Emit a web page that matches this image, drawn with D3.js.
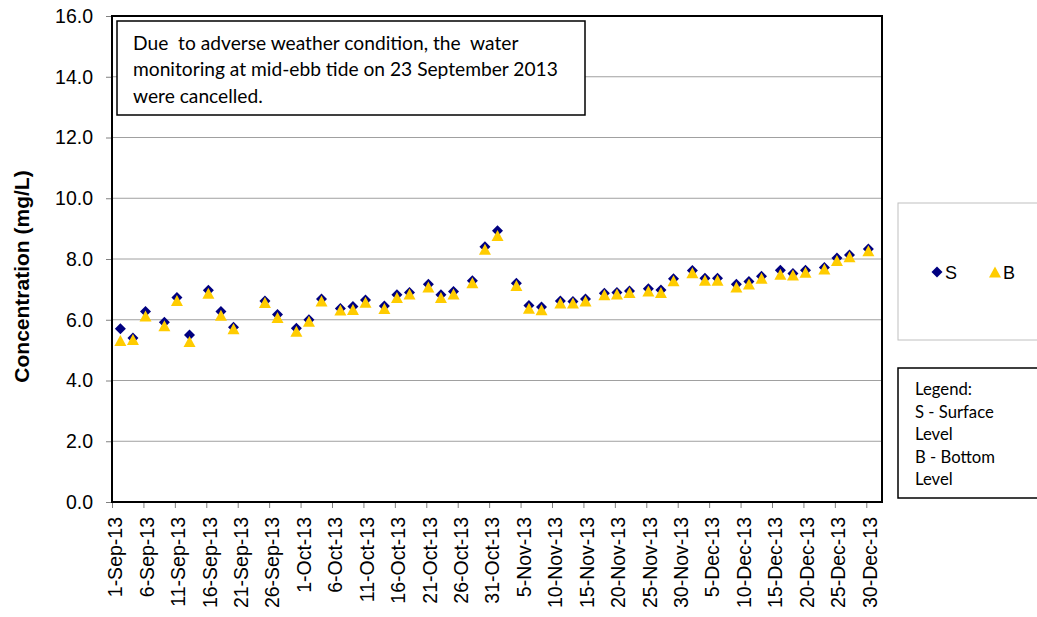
<!DOCTYPE html>
<html>
<head>
<meta charset="utf-8">
<script src="https://cdn.jsdelivr.net/npm/d3@7"></script>
<style>
  body { margin: 0; background: #fff; }
  svg { display: block; }
  .tick text { font-family: "Liberation Sans", Arial, sans-serif; font-size: 19.5px; fill: #000; }
  .note, .legnote { font-family: Lato, "Open Sans", sans-serif; fill: #000; }
</style>
</head>
<body>
<script>
//sampling dates (mid-ebb tide), 23-Sep-13 cancelled
var sampleDates = ["2-Sep-13","4-Sep-13","6-Sep-13","9-Sep-13","11-Sep-13","13-Sep-13","16-Sep-13","18-Sep-13","20-Sep-13",
    "25-Sep-13","27-Sep-13","30-Sep-13","2-Oct-13","4-Oct-13","7-Oct-13","9-Oct-13","11-Oct-13","14-Oct-13","16-Oct-13",
    "18-Oct-13","21-Oct-13","23-Oct-13","25-Oct-13","28-Oct-13","30-Oct-13","1-Nov-13","4-Nov-13","6-Nov-13","8-Nov-13",
    "11-Nov-13","13-Nov-13","15-Nov-13","18-Nov-13","20-Nov-13","22-Nov-13","25-Nov-13","27-Nov-13","29-Nov-13","2-Dec-13",
    "4-Dec-13","6-Dec-13","9-Dec-13","11-Dec-13","13-Dec-13","16-Dec-13","18-Dec-13","20-Dec-13","23-Dec-13","25-Dec-13",
    "27-Dec-13","30-Dec-13"];

//S - surface level (mg/L)
var surface = [5.70,5.40,6.27,5.92,6.73,5.50,6.97,6.27,5.75,6.62,6.17,5.72,6.00,6.68,6.37,6.44,6.65,6.45,6.82,6.90,
    7.17,6.82,6.93,7.28,8.40,8.93,7.20,6.47,6.42,6.62,6.60,6.68,6.87,6.90,6.95,7.02,6.98,7.35,7.62,7.37,7.37,7.17,
    7.26,7.43,7.63,7.52,7.63,7.72,8.03,8.13,8.33];

//B - bottom level (mg/L)
var bottom = [5.32,5.35,6.12,5.80,6.63,5.28,6.87,6.15,5.70,6.57,6.07,5.62,5.95,6.62,6.32,6.34,6.58,6.37,6.73,6.85,
    7.08,6.73,6.85,7.22,8.32,8.77,7.13,6.38,6.33,6.55,6.55,6.62,6.82,6.85,6.90,6.95,6.90,7.28,7.55,7.30,7.30,7.08,
    7.18,7.37,7.50,7.47,7.56,7.67,7.95,8.07,8.27];

//x axis tick labels
var xTickLabels = ["1-Sep-13","6-Sep-13","11-Sep-13","16-Sep-13","21-Sep-13","26-Sep-13","1-Oct-13","6-Oct-13",
    "11-Oct-13","16-Oct-13","21-Oct-13","26-Oct-13","31-Oct-13","5-Nov-13","10-Nov-13","15-Nov-13","20-Nov-13",
    "25-Nov-13","30-Nov-13","5-Dec-13","10-Dec-13","15-Dec-13","20-Dec-13","25-Dec-13","30-Dec-13"];

//y axis ticks
var yTicks = [0, 2, 4, 6, 8, 10, 12, 14, 16];

var noteLines = ["Due  to adverse weather condition, the  water",
    "monitoring at mid-ebb tide on 23 September 2013",
    "were cancelled."];
var legendLines = ["Legend:", "S - Surface", "Level", "B - Bottom", "Level"];

var parseDate = d3.timeParse("%d-%b-%y");

var width = 1037, height = 617,
    plotLeft = 112, plotRight = 882, plotTop = 16, plotBottom = 502;

var svg = d3.select("body").append("svg")
    .attr("width", width)
    .attr("height", height);

var xScale = d3.scaleTime()
    .domain([parseDate("1-Sep-13"), new Date(2014, 0, 1, 12)])
    .range([plotLeft, plotRight]);

var yScale = d3.scaleLinear()
    .domain([0, 16])
    .range([plotBottom, plotTop]);

//points sit a little past the day's tick
function px(s){
    return xScale(d3.timeHour.offset(parseDate(s), 8));
}

//gridlines
svg.append("g")
    .selectAll("line")
    .data(yTicks.filter(function(d){ return d > 0 && d < 16; }))
    .enter()
    .append("line")
    .attr("x1", plotLeft)
    .attr("x2", plotRight)
    .attr("y1", function(d){ return yScale(d); })
    .attr("y2", function(d){ return yScale(d); })
    .attr("stroke", "#a0a0a0")
    .attr("stroke-width", 1);

//y axis
var yAxis = svg.append("g")
    .attr("transform", "translate(" + plotLeft + ",0)")
    .call(d3.axisLeft(yScale)
        .tickValues(yTicks)
        .tickFormat(d3.format(".1f"))
        .tickSize(6)
        .tickPadding(13));
yAxis.select(".domain").remove();
yAxis.selectAll(".tick line").attr("stroke", "#808080");

//x axis
var xAxis = svg.append("g")
    .attr("transform", "translate(0," + plotBottom + ")")
    .call(d3.axisBottom(xScale)
        .tickValues(xTickLabels.map(parseDate))
        .tickFormat(d3.timeFormat("%-d-%b-%y"))
        .tickSize(6));
xAxis.select(".domain").remove();
xAxis.selectAll(".tick line").attr("stroke", "#808080");
xAxis.selectAll(".tick text")
    .attr("text-anchor", "end")
    .attr("transform", "rotate(-90)")
    .attr("x", -15)
    .attr("y", 0)
    .attr("dy", "0.5em");

//plot frame
svg.append("rect")
    .attr("x", plotLeft)
    .attr("y", plotTop)
    .attr("width", plotRight - plotLeft)
    .attr("height", plotBottom - plotTop)
    .attr("fill", "none")
    .attr("stroke", "#000")
    .attr("stroke-width", 2);

//y axis title
svg.append("text")
    .attr("transform", "translate(28.5,276.5) rotate(-90)")
    .attr("text-anchor", "middle")
    .style("font-family", "'Liberation Sans', Arial, sans-serif")
    .style("font-size", "21px")
    .style("font-weight", "bold")
    .text("Concentration (mg/L)");

//markers
var diamond = "M0,-5.5L5.5,0L0,5.5L-5.5,0Z";
var triangle = "M0,-5.5L6,5.5L-6,5.5Z";

svg.append("g")
    .selectAll("path")
    .data(sampleDates)
    .enter()
    .append("path")
    .attr("d", diamond)
    .attr("transform", function(d, i){ return "translate(" + px(d) + "," + yScale(surface[i]) + ")"; })
    .attr("fill", "#000080");

svg.append("g")
    .selectAll("path")
    .data(sampleDates)
    .enter()
    .append("path")
    .attr("d", triangle)
    .attr("transform", function(d, i){ return "translate(" + px(d) + "," + yScale(bottom[i]) + ")"; })
    .attr("fill", "#FFCC00");

//note box
svg.append("rect")
    .attr("x", 117).attr("y", 21)
    .attr("width", 468).attr("height", 94)
    .attr("fill", "#fff")
    .attr("stroke", "#000")
    .attr("stroke-width", 1.5);

svg.append("g")
    .selectAll("text")
    .data(noteLines)
    .enter()
    .append("text")
    .attr("class", "note")
    .attr("x", 133)
    .attr("y", function(d, i){ return 49.5 + i * 26.5; })
    .style("font-size", "19.2px")
    .style("white-space", "pre")
    .text(function(d){ return d; });

//series legend box
svg.append("rect")
    .attr("x", 898).attr("y", 203)
    .attr("width", 150).attr("height", 137)
    .attr("fill", "#fff")
    .attr("stroke", "#c0c0c0")
    .attr("stroke-width", 1);

var legItems = [{name: "S", shape: diamond, color: "#000080", x: 937},
                {name: "B", shape: triangle, color: "#FFCC00", x: 995}];
var leg = svg.append("g")
    .selectAll("g")
    .data(legItems)
    .enter()
    .append("g")
    .attr("transform", function(d){ return "translate(" + d.x + ",272)"; });
leg.append("path")
    .attr("d", function(d){ return d.shape; })
    .attr("fill", function(d){ return d.color; });
leg.append("text")
    .attr("x", 8)
    .attr("y", 6.5)
    .style("font-family", "'Liberation Sans', Arial, sans-serif")
    .style("font-size", "18px")
    .text(function(d){ return d.name; });

//text legend box
svg.append("rect")
    .attr("x", 898).attr("y", 368)
    .attr("width", 150).attr("height", 130)
    .attr("fill", "#fff")
    .attr("stroke", "#000")
    .attr("stroke-width", 1.5);

svg.append("g")
    .selectAll("text")
    .data(legendLines)
    .enter()
    .append("text")
    .attr("class", "legnote")
    .attr("x", 915)
    .attr("y", function(d, i){ return 395 + i * 22.5; })
    .style("font-size", "16.7px")
    .text(function(d){ return d; });
</script>
</body>
</html>
